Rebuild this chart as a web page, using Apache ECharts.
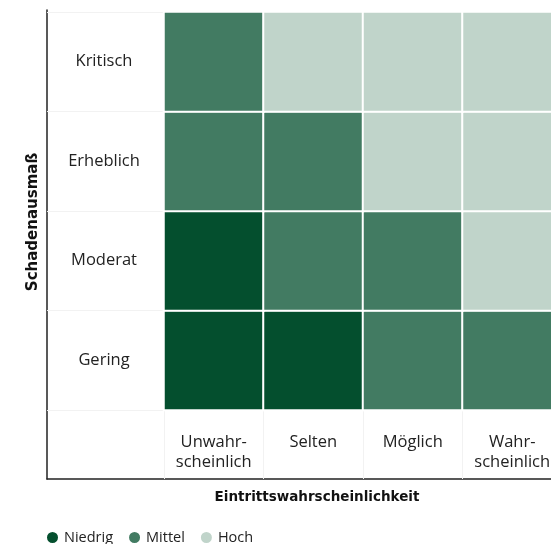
<!DOCTYPE html>
<html lang="de">
<head>
    <meta charset="UTF-8">
    <title>Risikomatrix</title>
    <script src="https://cdn.jsdelivr.net/npm/echarts@6/dist/echarts.min.js"></script>
    <style>
        html, body { margin: 0; padding: 0; background: #fff; }
        #chart { width: 551px; height: 544px; }
    </style>
</head>
<body>
    <div id="chart"></div>
    <script>
        const likelihood = ['Unwahr-\nscheinlich', 'Selten', 'Möglich', 'Wahr-\nscheinlich'];
        const severity = ['Gering', 'Moderat', 'Erheblich', 'Kritisch'];
        const levels = ['Niedrig', 'Mittel', 'Hoch'];
        const levelColors = ['#044f2e', '#427b62', '#c0d4ca'];

        // risk level index per cell, rows = severity (bottom to top), cols = likelihood
        const riskGrid = [
            [0, 0, 1, 1],  // Gering
            [0, 1, 1, 2],  // Moderat
            [1, 1, 2, 2],  // Erheblich
            [1, 2, 2, 2]   // Kritisch
        ];

        const font = '"Open Sans", sans-serif';
        const boldFont = '"DejaVu Sans", sans-serif';
        const chart = echarts.init(document.getElementById('chart'));

        const series = levels.map((name, lv) => ({
            name: name,
            type: 'heatmap',
            xAxisIndex: 0,
            yAxisIndex: 0,
            data: riskGrid.flatMap((row, y) =>
                row.map((v, x) => (v === lv ? [x, y, 1] : null)).filter(Boolean)),
            itemStyle: { color: levelColors[lv], borderColor: '#fff', borderWidth: 2 },
            emphasis: { disabled: true }
        }));

        chart.setOption({
            animation: false,
            textStyle: { fontFamily: font },
            legend: {
                left: 40,
                top: 525,
                icon: 'circle',
                itemWidth: 13,
                itemHeight: 13,
                itemGap: 14,
                textStyle: { fontSize: 14.5, color: '#222', fontFamily: font },
                data: levels
            },
            grid: [
                { left: 164, top: 12, width: 398, height: 398, outerBoundsMode: 'none' },
                { left: 47, top: 10, width: 540, height: 469, outerBoundsMode: 'none' },
                { left: 47, top: 0, width: 540, height: 444, outerBoundsMode: 'none' }
            ],
            xAxis: [
                {
                    gridIndex: 0,
                    type: 'category',
                    data: likelihood,
                    axisLine: { show: false },
                    axisTick: { show: true, length: 69, lineStyle: { color: '#f2f2f2' } },
                    axisLabel: { interval: 0, margin: 22, fontSize: 16.5, color: '#222', lineHeight: 20, fontFamily: font },
                    splitLine: { show: false }
                },
                {
                    gridIndex: 1,
                    type: 'value',
                    min: 0, max: 1,
                    name: 'Eintrittswahrscheinlichkeit',
                    nameLocation: 'middle',
                    nameGap: 11,
                    nameTextStyle: { fontSize: 13.5, fontWeight: 'bold', color: '#111', fontFamily: boldFont, verticalAlign: 'top' },
                    axisLine: { show: true, lineStyle: { color: '#222', width: 1.5 } },
                    axisTick: { show: false },
                    axisLabel: { show: false },
                    splitLine: { show: false }
                },
                {
                    gridIndex: 2,
                    type: 'value',
                    min: 0, max: 1,
                    show: false
                }
            ],
            yAxis: [
                {
                    gridIndex: 0,
                    type: 'category',
                    data: severity,
                    axisLine: { show: false },
                    axisTick: { show: true, length: 117, lineStyle: { color: '#f2f2f2' } },
                    axisLabel: { interval: 0, margin: 60, align: 'center', fontSize: 16.5, color: '#222', fontFamily: font },
                    splitLine: { show: false }
                },
                {
                    gridIndex: 1,
                    type: 'value',
                    min: 0, max: 1,
                    axisLine: { show: true, lineStyle: { color: '#222', width: 1.5 } },
                    axisTick: { show: false },
                    axisLabel: { show: false },
                    splitLine: { show: false }
                },
                {
                    gridIndex: 2,
                    type: 'value',
                    min: 0, max: 1,
                    name: 'Schadenausmaß',
                    nameLocation: 'middle',
                    nameGap: 6,
                    nameTextStyle: { fontSize: 15, fontWeight: 'bold', color: '#111', fontFamily: boldFont },
                    axisLine: { show: false },
                    axisTick: { show: false },
                    axisLabel: { show: false },
                    splitLine: { show: false }
                }
            ],
            series: series
        });
    </script>
</body>
</html>
